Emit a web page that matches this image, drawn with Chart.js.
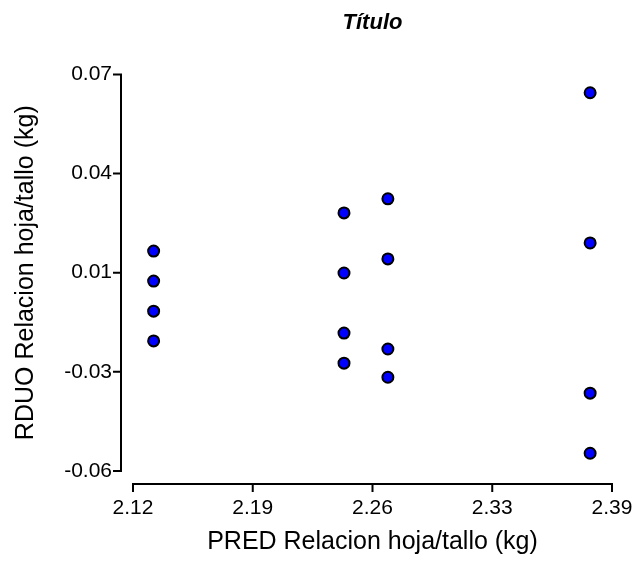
<!DOCTYPE html>
<html>
<head>
<meta charset="utf-8">
<script src="https://cdn.jsdelivr.net/npm/chart.js@4"></script>
<style>
  body { margin: 0; background: #fff; }
  canvas { display: block; }
</style>
</head>
<body>
<canvas id="residChart" width="641" height="562"></canvas>
<script>
// predicted values (x) and residuals (y)
const predVals = [2.1318, 2.1318, 2.1318, 2.1318,
                  2.2407, 2.2407, 2.2407, 2.2407,
                  2.2658, 2.2658, 2.2658, 2.2658,
                  2.3815, 2.3815, 2.3815, 2.3815];
const residVals = [0.0149, 0.0049, -0.0051, -0.0150,
                   0.0276, 0.0076, -0.0124, -0.0224,
                   0.0323, 0.0123, -0.0177, -0.0271,
                   0.0676, 0.0176, -0.0324, -0.0524];

const xTickLabels = ['2.12', '2.19', '2.26', '2.33', '2.39'];
const yTickLabels = ['-0.06', '-0.03', '0.01', '0.04', '0.07'];
const xRange = [2.12, 2.394];
const yRange = [-0.0583, 0.0737];

const fontFamily = 'Arial, "Liberation Sans", sans-serif';

function evenTicks(scale, labels) {
    const step = (scale.max - scale.min) / (labels.length - 1);
    scale.ticks = labels.map((_, i) => ({ value: scale.min + i * step }));
}

// Prism style axes, detached from the plot area
const offsetAxes = {
    id: 'offsetAxes',
    afterDraw(chart) {
        const ctx = chart.ctx;
        const x = chart.scales.x, y = chart.scales.y;
        const ax = x.left - 12;
        const ay = y.bottom + 13;
        ctx.save();
        ctx.strokeStyle = '#000';
        ctx.lineWidth = 2;
        ctx.beginPath();
        ctx.moveTo(ax, y.getPixelForValue(y.max));
        ctx.lineTo(ax, y.getPixelForValue(y.min));
        y.ticks.forEach(t => {
            const py = y.getPixelForValue(t.value);
            ctx.moveTo(ax - 8, py);
            ctx.lineTo(ax + 1, py);
        });
        ctx.moveTo(x.getPixelForValue(x.min), ay);
        ctx.lineTo(x.getPixelForValue(x.max), ay);
        x.ticks.forEach(t => {
            const px = x.getPixelForValue(t.value);
            ctx.moveTo(px, ay - 1);
            ctx.lineTo(px, ay + 8);
        });
        ctx.stroke();
        ctx.restore();
    }
};

const ctx = document.getElementById('residChart').getContext('2d');
const residChart = new Chart(ctx, {
    type: 'scatter',
    data: {
        datasets: [{
            data: predVals.map((v, i) => ({ x: v, y: residVals[i] })),
            backgroundColor: '#0000ff',
            borderColor: '#000',
            borderWidth: 2,
            pointRadius: 5.5,
            pointHoverRadius: 5.5
        }]
    },
    options: {
        responsive: false,
        animation: false,
        layout: { padding: { left: 0, right: 29, top: 0, bottom: 0 } },
        plugins: {
            legend: { display: false },
            tooltip: { enabled: false },
            title: {
                display: true,
                text: 'Título',
                fullSize: false,
                color: '#000',
                font: { family: fontFamily, size: 22, weight: 'bold', style: 'italic' },
                padding: { top: 10, bottom: 38 }
            }
        },
        scales: {
            x: {
                type: 'linear',
                min: xRange[0],
                max: xRange[1],
                afterBuildTicks: s => evenTicks(s, xTickLabels),
                afterFit: s => { s.height = 91; s.paddingLeft = 0; s.paddingRight = 0; },
                grid: { display: false, drawTicks: false },
                border: { display: false },
                ticks: {
                    padding: 25,
                    color: '#000',
                    font: { family: fontFamily, size: 21 },
                    maxRotation: 0,
                    callback: (v, i) => xTickLabels[i]
                },
                title: {
                    display: true,
                    text: 'PRED Relacion hoja/tallo (kg)',
                    color: '#000',
                    font: { family: fontFamily, size: 25 },
                    padding: { top: 0, bottom: 5 }
                }
            },
            y: {
                type: 'linear',
                min: yRange[0],
                max: yRange[1],
                afterBuildTicks: s => evenTicks(s, yTickLabels),
                afterFit: s => { s.width = 133; },
                grid: { display: false, drawTicks: false },
                border: { display: false },
                ticks: {
                    padding: 21,
                    color: '#000',
                    font: { family: fontFamily, size: 21 },
                    callback: (v, i) => yTickLabels[i]
                },
                title: {
                    display: true,
                    text: 'RDUO Relacion hoja/tallo (kg)',
                    color: '#000',
                    font: { family: fontFamily, size: 25 },
                    padding: { top: 11, bottom: 0 }
                }
            }
        }
    },
    plugins: [offsetAxes]
});
</script>
</body>
</html>
